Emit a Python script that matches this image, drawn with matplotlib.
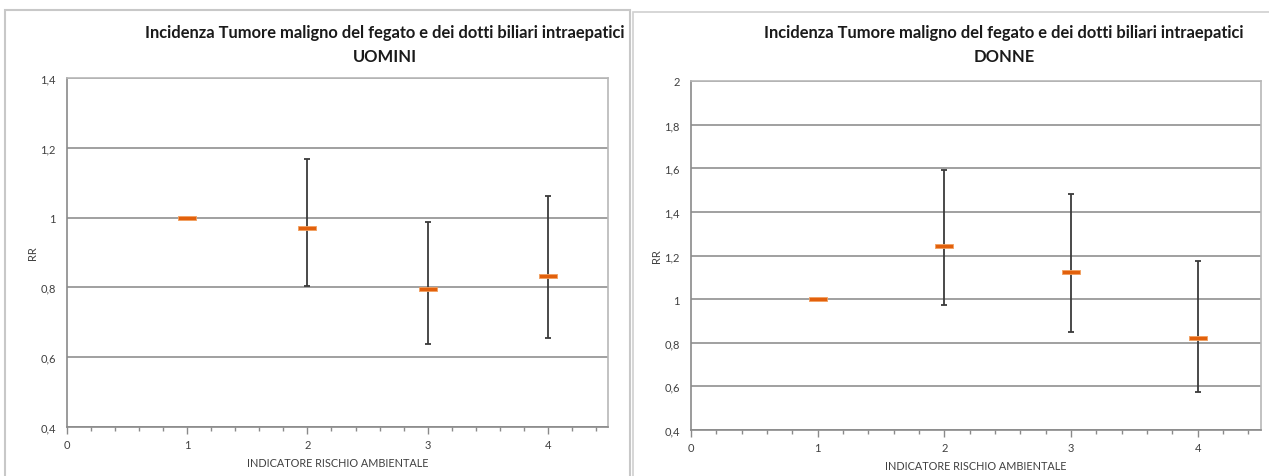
import numpy as np
import matplotlib.pyplot as plt
from matplotlib.patches import Rectangle
from matplotlib.ticker import MultipleLocator, FuncFormatter

plt.rcParams['font.family'] = ['Lato', 'DejaVu Sans']

titolo = "Incidenza Tumore maligno del fegato e dei dotti biliari intraepatici"
xlabel = "INDICATORE RISCHIO AMBIENTALE"

indicatore = [1, 2, 3, 4]

# uomini: RR con intervallo di confidenza
rr_uomini = [1.0, 0.970, 0.795, 0.833]
low_uomini = [1.0, 0.804, 0.638, 0.655]
up_uomini = [1.0, 1.168, 0.987, 1.062]

# donne
rr_donne = [1.0, 1.243, 1.124, 0.821]
low_donne = [1.0, 0.971, 0.849, 0.572]
up_donne = [1.0, 1.592, 1.483, 1.174]

W, H = 1269, 477
fig = plt.figure(figsize=(W / 100, H / 100), dpi=100)

# cornici dei due grafici
fig.patches.append(Rectangle((5 / W, -0.01), 625 / W, 1 - 11 / H + 0.01,
                             transform=fig.transFigure, fill=False,
                             edgecolor='#C8C8C8', linewidth=1.5))
fig.patches.append(Rectangle((633 / W, -0.01), 640 / W, 1 - 13 / H + 0.01,
                             transform=fig.transFigure, fill=False,
                             edgecolor='#D0D0D0', linewidth=1.2))

# marker rettangolare arancione (stile Excel)
dash = [(-4, -1.1), (4, -1.1), (4, 1.1), (-4, 1.1), (-4, -1.1)]


def virgola(v, pos):
    s = ('%.1f' % v).rstrip('0').rstrip('.')
    return s.replace('.', ',')


def pannello(rect, rr, low, up, ymax, sesso, cx):
    ax = fig.add_axes(rect)
    rr = np.array(rr)
    err = [rr - np.array(low), np.array(up) - rr]
    ax.errorbar(indicatore, rr, yerr=err, fmt='none', ecolor='#3A3A3A',
                elinewidth=1.3, capsize=2.5, capthick=1.3, zorder=3)
    ax.plot(indicatore, rr, linestyle='none', marker=dash, markersize=13,
            markerfacecolor='#E2600C', markeredgecolor='#F2A060',
            markeredgewidth=0.6, zorder=4)
    ax.set_xlim(0, 4.5)
    ax.set_ylim(0.4, ymax)
    ax.xaxis.set_major_locator(MultipleLocator(1))
    ax.xaxis.set_minor_locator(MultipleLocator(0.2))
    ax.yaxis.set_major_locator(MultipleLocator(0.2))
    ax.yaxis.set_major_formatter(FuncFormatter(virgola))
    ax.grid(axis='y', color='#A0A0A0', linewidth=1.4)
    ax.set_axisbelow(True)
    for s in ['top', 'right']:
        ax.spines[s].set_color('#B8B8B8')
        ax.spines[s].set_linewidth(1.2)
    for s in ['left', 'bottom']:
        ax.spines[s].set_color('#8A8A8A')
        ax.spines[s].set_linewidth(1.2)
    ax.tick_params(axis='x', which='major', length=5, width=1, color='#8A8A8A',
                   labelsize=8, labelcolor='#404040', pad=4)
    ax.tick_params(axis='x', which='minor', length=3, width=1, color='#8A8A8A')
    ax.tick_params(axis='y', length=0, labelsize=8, labelcolor='#404040', pad=8)
    ax.set_xlabel(xlabel, fontsize=7.8, color='#404040', labelpad=5)
    ax.set_ylabel('RR', fontsize=8, color='#404040', labelpad=2)
    fig.text(cx / W, 1 - 33 / H, titolo, ha='center', va='center',
             fontsize=11.9, fontweight='bold', color='#1A1A1A')
    fig.text(cx / W, 1 - 57 / H, sesso, ha='center', va='center',
             fontsize=11.9, fontweight='bold', color='#1A1A1A')
    return ax


pannello([67 / W, 1 - 428 / H, 541 / W, 349 / H],
         rr_uomini, low_uomini, up_uomini, 1.4, 'UOMINI', 385)
pannello([691 / W, 1 - 431 / H, 570 / W, 349 / H],
         rr_donne, low_donne, up_donne, 2.0, 'DONNE', 1004)

plt.savefig('out.png', dpi=100)
